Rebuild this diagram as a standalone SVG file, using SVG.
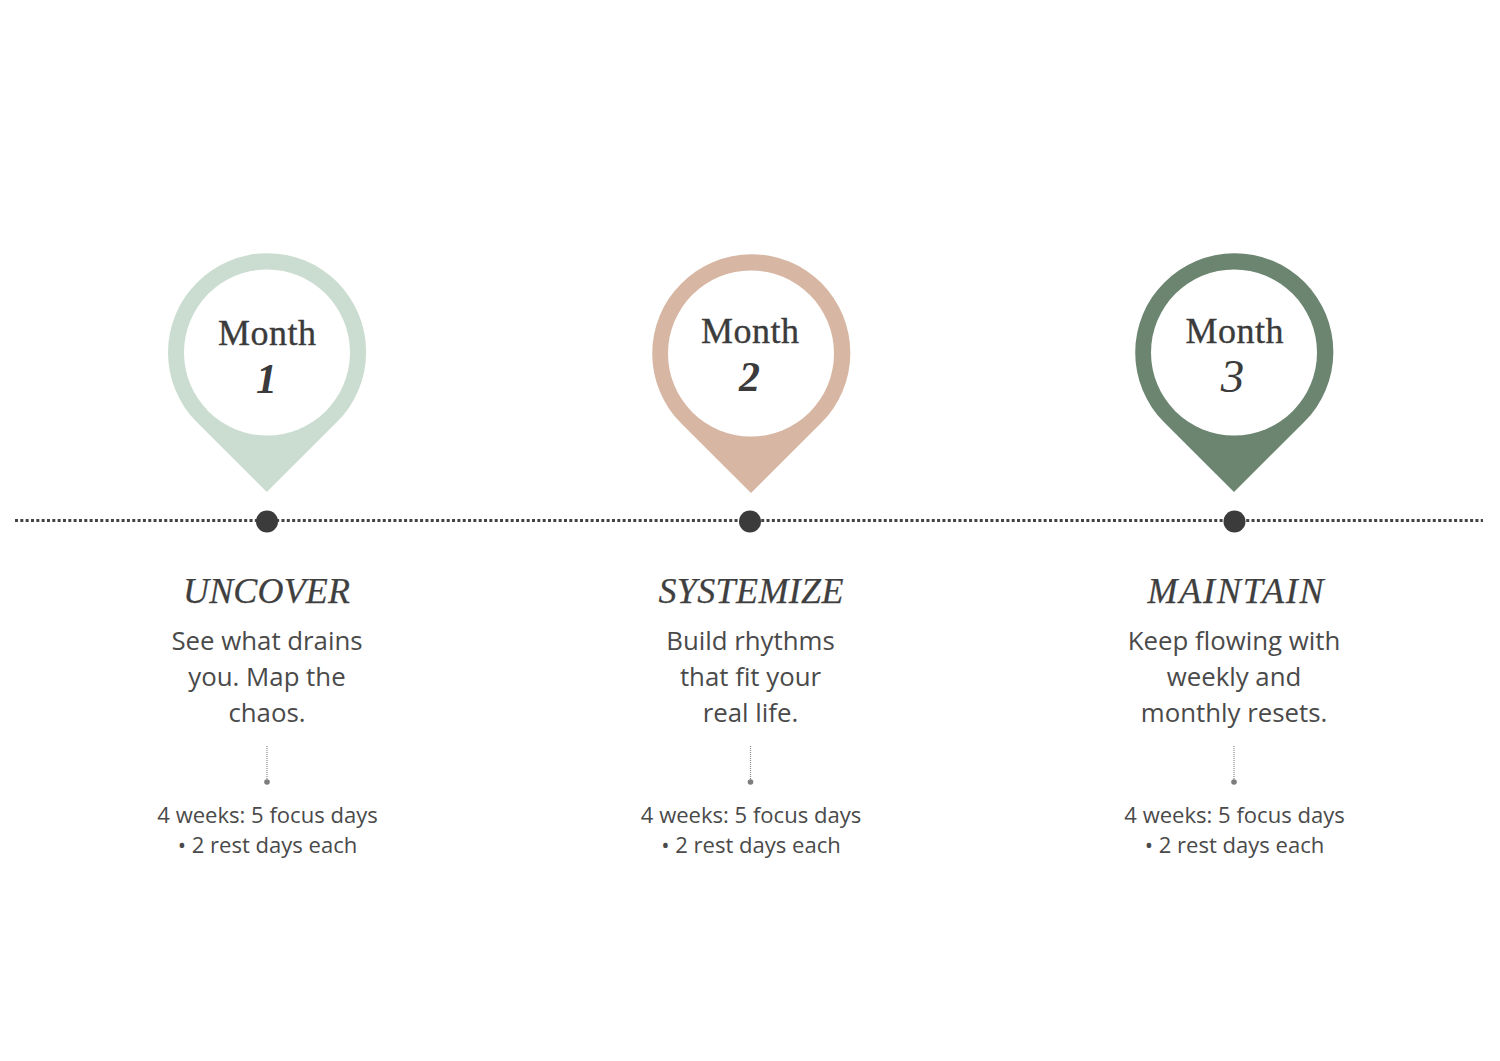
<svg xmlns="http://www.w3.org/2000/svg" width="1500" height="1061" viewBox="0 0 1500 1061">
<style>
.m{font-family:"Liberation Serif",serif;font-size:36px;fill:#3b3b3b;stroke:#3b3b3b;stroke-width:.35;text-anchor:middle}
.n{font-family:"Liberation Serif",serif;font-size:42px;font-style:italic;font-weight:bold;fill:#3b3b3b;text-anchor:middle}
.n3{font-family:"Liberation Serif",serif;font-size:47px;font-style:italic;fill:#3b3b3b;text-anchor:middle}
.t{font-family:"Liberation Serif",serif;font-size:36px;font-style:italic;fill:#3f3f3f;stroke:#3f3f3f;stroke-width:.25;text-anchor:middle}
.b{font-family:"Open Sans","Noto Sans",sans-serif;font-size:25.800px;fill:#4a4a4a;text-anchor:middle}
.s{font-family:"Open Sans","Noto Sans",sans-serif;font-size:22.050px;fill:#4a4a4a;text-anchor:middle}
.hole{fill:#fff}
.dot{fill:#3b3b3b}
.stem{stroke:#8a8a8a;stroke-width:1.200;stroke-dasharray:1 1;fill:none}
.sd{fill:#7d7d7d}
</style>
<defs><path id="pin" d="M-69.860-69.860A98.800 98.800 0 1 1 69.860 69.860L0 139.500L-69.860 69.860A98.800 98.800 0 0 1-69.860-69.860Z"/></defs>
<g id="connectors">
<line x1="15" y1="520.500" x2="1483" y2="520.500" stroke="#444" stroke-width="3" stroke-dasharray="3 2.330"/>
<path class="stem" d="M267 746V780M750.500 746V780M1234 746V780"/>
</g>
<g id="node1">
<use href="#pin" x="266.800" y="352.500" fill="#cbddd1"/><circle class="hole" cx="267" cy="352.500" r="83"/>
<text class="m" x="267" y="345" textLength="98">Month</text><text class="n" x="266.500" y="393">1</text>
<circle class="dot" cx="267" cy="521.500" r="11"/>
<text class="t" x="266.500" y="603" textLength="167">UNCOVER</text>
<text class="b" x="267" y="650">See what drains</text><text class="b" x="267" y="686">you. Map the</text><text class="b" x="267" y="722">chaos.</text>
<circle class="sd" cx="267" cy="782" r="2.800"/>
<text class="s" x="267.500" y="823">4 weeks: 5 focus days</text><text class="s" x="267.500" y="853">• 2 rest days each</text>
</g>
<g id="node2">
<use href="#pin" x="751" y="353.500" fill="#d7b7a3"/><circle class="hole" cx="751" cy="353.500" r="83"/>
<text class="m" x="750" y="343" textLength="98">Month</text><text class="n" x="749.500" y="391">2</text>
<circle class="dot" cx="750" cy="521.500" r="11"/>
<text class="t" x="751" y="603" textLength="185">SYSTEMIZE</text>
<text class="b" x="750.500" y="650">Build rhythms</text><text class="b" x="750.500" y="686">that fit your</text><text class="b" x="750.500" y="722">real life.</text>
<circle class="sd" cx="750.500" cy="782" r="2.800"/>
<text class="s" x="751" y="823">4 weeks: 5 focus days</text><text class="s" x="751" y="853">• 2 rest days each</text>
</g>
<g id="node3">
<use href="#pin" x="1234" y="352.500" fill="#6b8570"/><circle class="hole" cx="1234" cy="352.500" r="83"/>
<text class="m" x="1234.500" y="343" textLength="98">Month</text><text class="n3" x="1232.500" y="392">3</text>
<circle class="dot" cx="1234.500" cy="521.500" r="11"/>
<text class="t" x="1235.500" y="603" textLength="176">MAINTAIN</text>
<text class="b" x="1234" y="650">Keep flowing with</text><text class="b" x="1234" y="686">weekly and</text><text class="b" x="1234" y="722">monthly resets.</text>
<circle class="sd" cx="1234" cy="782" r="2.800"/>
<text class="s" x="1234.500" y="823">4 weeks: 5 focus days</text><text class="s" x="1234.500" y="853">• 2 rest days each</text>
</g>
</svg>
